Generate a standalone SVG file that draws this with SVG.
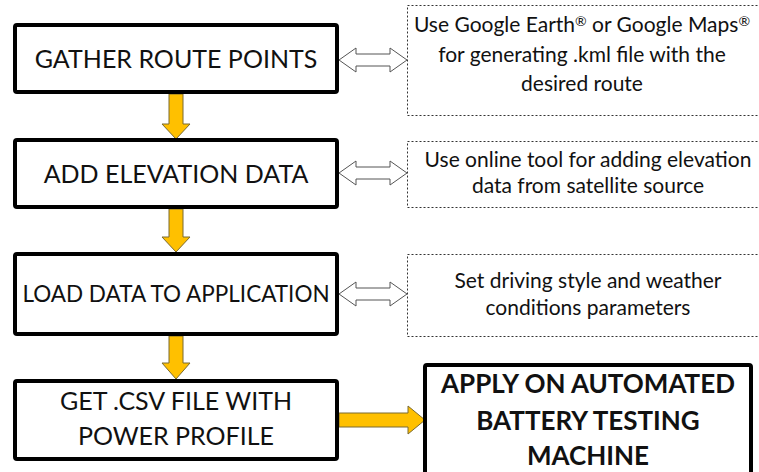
<svg xmlns="http://www.w3.org/2000/svg" width="759" height="472" viewBox="0 0 759 472">
<style>
.box{fill:#fff;stroke:#000;stroke-width:4}
.note{fill:#fff;stroke:#333;stroke-width:1;stroke-dasharray:2 2}
.t{font-family:Lato,"Open Sans",sans-serif;fill:#111;text-anchor:middle}
.bt{font-size:25px}
.bs{font-size:22.5px}
.nt{font-size:21px}
.bold{font-size:26px;font-weight:bold}
.ya{fill:#FFC000;stroke:#7a6a30;stroke-width:1}
.da{fill:#fff;stroke:#555;stroke-width:1}
.sup{font-size:14px}
</style>
<rect width="759" height="472" fill="#fff"/>
<g id="connectors">
<path class="ya" d="M169,94 H183 V124 H190 L176,139 L162,124 H169 Z"/>
<path class="ya" d="M169,209 H183 V237 H190 L176,252 L162,237 H169 Z"/>
<path class="ya" d="M169,336 H183 V363 H190 L176,379 L162,363 H169 Z"/>
<path class="ya" d="M339,413 H408 V406 L425,420 L408,434 V427 H339 Z"/>
<path class="da" d="M339,60 L356,48 V54 H390 V48 L407,60 L390,72 V66 H356 V72 Z"/>
<path class="da" d="M339,173 L356,161 V167 H390 V161 L407,173 L390,185 V179 H356 V185 Z"/>
<path class="da" d="M339,294 L356,282 V288 H390 V282 L407,294 L390,306 V300 H356 V306 Z"/>
</g>
<g id="gather">
<rect class="box" x="15" y="25" width="322" height="67" rx="2"/>
<text class="t bt" x="176" y="68">GATHER ROUTE POINTS</text>
</g>
<g id="elevation">
<rect class="box" x="15" y="140" width="322" height="67" rx="2"/>
<text class="t bt" x="176" y="183">ADD ELEVATION DATA</text>
</g>
<g id="load">
<rect class="box" x="15" y="254" width="322" height="80" rx="2"/>
<text class="t bs" x="176" y="302">LOAD DATA TO APPLICATION</text>
</g>
<g id="csv">
<rect class="box" x="15" y="381" width="322" height="78" rx="2"/>
<text class="t bt" x="176" y="410">GET .CSV FILE WITH</text>
<text class="t bt" x="176" y="445">POWER PROFILE</text>
</g>
<g id="apply">
<rect class="box" x="425" y="365" width="326" height="112" rx="2"/>
<text class="t bold" x="588" y="393">APPLY ON AUTOMATED</text>
<text class="t bold" x="588" y="430">BATTERY TESTING</text>
<text class="t bold" x="588" y="465">MACHINE</text>
</g>
<g id="note1">
<rect class="note" x="407.5" y="5.5" width="360" height="110"/>
<text class="t nt" x="582" y="32">Use Google Earth<tspan class="sup" dy="-6">®</tspan><tspan dy="6"> or Google Maps</tspan><tspan class="sup" dy="-6">®</tspan></text>
<text class="t nt" x="582" y="62">for generating .kml file with the</text>
<text class="t nt" x="582" y="91">desired route</text>
</g>
<g id="note2">
<rect class="note" x="407.5" y="141.5" width="360" height="66"/>
<text class="t nt" x="588" y="167">Use online tool for adding elevation</text>
<text class="t nt" x="588" y="193">data from satellite source</text>
</g>
<g id="note3">
<rect class="note" x="407.5" y="254.5" width="360" height="82"/>
<text class="t nt" x="588" y="288">Set driving style and weather</text>
<text class="t nt" x="588" y="315">conditions parameters</text>
</g>
</svg>
